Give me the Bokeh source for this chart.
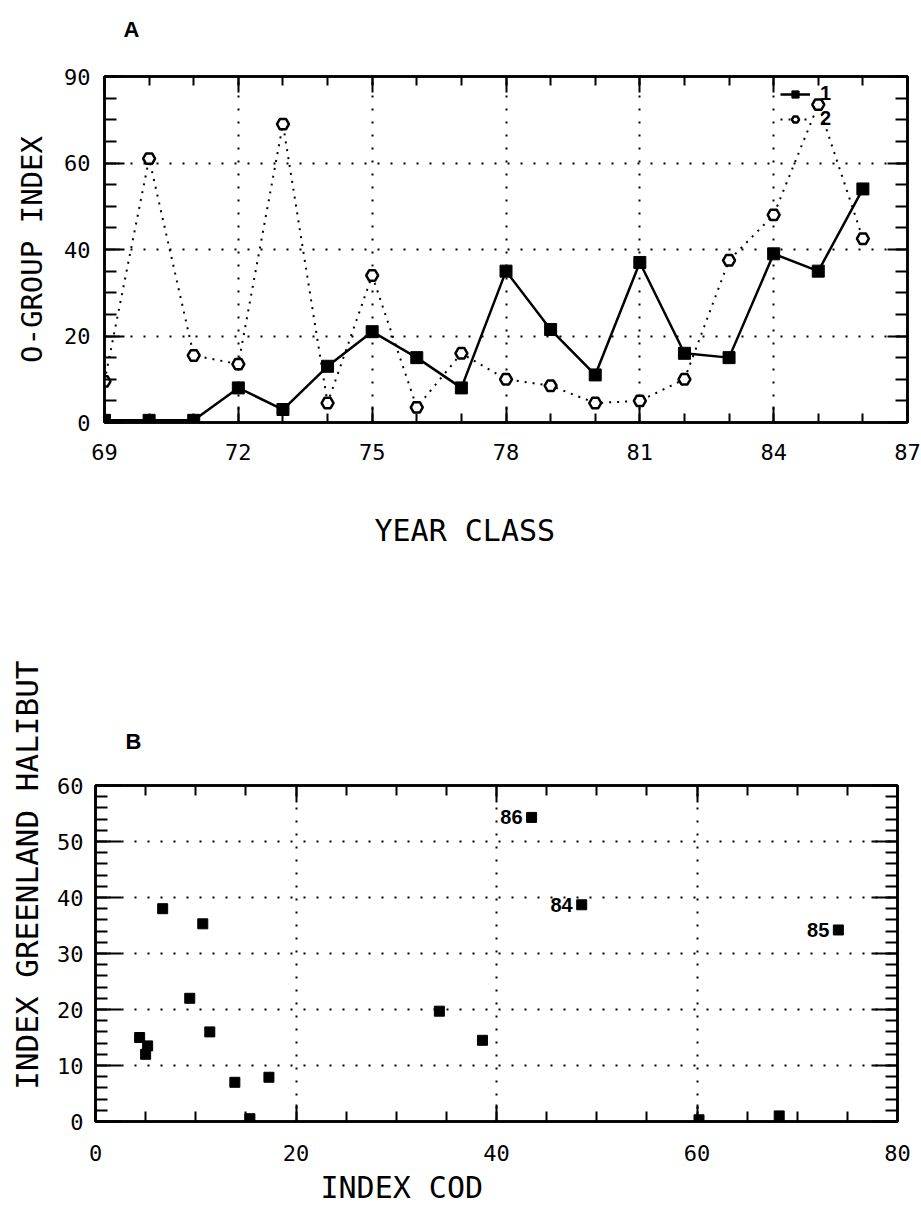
from bokeh.plotting import figure
from bokeh.models import (Range1d, SingleIntervalTicker, LinearAxis, Legend, Title,
                          LegendItem, ColumnDataSource, LabelSet)
from bokeh.embed import file_html
from bokeh.resources import INLINE
from bokeh.core.properties import value

# ---------------- data: panel A ----------------
years = [69, 70, 71, 72, 73, 74, 75, 76, 77, 78, 79, 80, 81, 82, 83, 84, 85, 86]
halibut_idx = [0.5, 0.5, 0.5, 8, 3, 13, 21, 15, 8, 35, 21.5, 11, 37, 16, 15, 39, 35, 54]
cod_idx = [9.5, 61, 15.5, 13.5, 69, 4.5, 34, 3.5, 16, 10, 8.5, 4.5, 5, 10, 37.5, 48, 73.5, 42.5]
series_labels = ["1", "2"]
a_ytick_labels = {80: "90"}

# ---------------- data: panel B ----------------
years_b = [70, 71, 72, 73, 74, 75, 76, 77, 78, 79, 80, 81, 82, 83, 84, 85, 86]
cod_b = [60.2, 15.4, 13.9, 68.2, 5.2, 34.3, 4.4, 17.3, 10.7, 9.4, 5.0, 6.7, 11.4, 38.6, 48.5, 74.1, 43.5]
halibut_b = [0.3, 0.5, 7.0, 1.0, 13.5, 19.7, 15.0, 7.9, 35.3, 22.0, 12.0, 38.0, 16.0, 14.5, 38.7, 34.2, 54.3]
labelled_years = [84, 85, 86]

MONO = "DejaVu Sans Mono"
BOLD = "Liberation Sans"


def style_axis(ax, ticker, major_in, minor_in, labels=True):
    ax.ticker = ticker
    ax.major_tick_in = major_in
    ax.major_tick_out = 0
    ax.minor_tick_in = minor_in
    ax.minor_tick_out = 0
    ax.axis_line_width = 2.5
    ax.axis_line_color = "black"
    ax.major_tick_line_width = 2
    ax.minor_tick_line_width = 2
    ax.major_tick_line_color = "black"
    ax.minor_tick_line_color = "black"
    ax.major_label_text_font = MONO
    if labels:
        ax.major_label_text_color = "black"
        ax.major_label_text_font_size = "22px"
    else:
        ax.major_label_text_color = None
        ax.major_label_text_font_size = "1px"
        ax.major_label_standoff = 0


def style_grid(p):
    for g in (p.xgrid, p.ygrid):
        g.grid_line_color = "black"
        g.grid_line_dash = "2 11"
        g.grid_line_width = 2


def mono_title(text, align, offset, standoff, valign="bottom", size="30px"):
    return Title(text=text, align=align, offset=offset, standoff=standoff,
                 vertical_align=valign, text_font=MONO, text_font_style="normal",
                 text_font_size=size, text_color="black")


# ================= Panel A =================
pA = figure(width=921, height=610, output_backend="svg", toolbar_location=None,
            x_range=Range1d(69, 87), y_range=Range1d(0, 80),
            min_border_left=104, min_border_right=14, min_border_top=76, min_border_bottom=188)
pA.outline_line_color = "black"
pA.outline_line_width = 2.5
pA.background_fill_color = "white"
pA.border_fill_color = "white"

style_axis(pA.xaxis[0], SingleIntervalTicker(interval=3, num_minor_ticks=3), 16, 9)
style_axis(pA.yaxis[0], SingleIntervalTicker(interval=20, num_minor_ticks=4), 20, 12)
pA.xaxis[0].major_label_standoff = 21
pA.yaxis[0].major_label_standoff = 14
pA.yaxis[0].major_label_overrides = a_ytick_labels
pA.yaxis[0].axis_label = "O-GROUP INDEX"
pA.yaxis[0].axis_label_standoff = 12
pA.yaxis[0].axis_label_text_font = MONO
pA.yaxis[0].axis_label_text_font_style = "normal"
pA.yaxis[0].axis_label_text_font_size = "29px"
pA.yaxis[0].axis_label_text_color = "black"

axr = LinearAxis()
style_axis(axr, SingleIntervalTicker(interval=20, num_minor_ticks=4), 20, 12, labels=False)
pA.add_layout(axr, "right")
axt = LinearAxis()
style_axis(axt, SingleIntervalTicker(interval=3, num_minor_ticks=3), 16, 9, labels=False)
pA.add_layout(axt, "above")
style_grid(pA)

r1l = pA.line(years, halibut_idx, line_color="black", line_width=2.5)
r1m = pA.scatter(years, halibut_idx, marker="square", size=12, fill_color="black", line_color="black")
r2l = pA.line(years, cod_idx, line_color="black", line_width=2, line_dash="2 6")
r2m = pA.scatter(years, cod_idx, marker="hex", size=12, fill_color="white", line_color="black", line_width=2.5)

leg = Legend(items=[LegendItem(label=series_labels[0], renderers=[r1l, r1m]),
                    LegendItem(label=series_labels[1], renderers=[r2l, r2m])],
             location=(676, 292), orientation="vertical")
leg.background_fill_alpha = 0
leg.border_line_alpha = 0
leg.label_text_font = BOLD
leg.label_text_font_style = "bold"
leg.label_text_font_size = "20px"
leg.label_text_color = "black"
leg.glyph_width = 30
leg.glyph_height = 18
leg.spacing = 2
leg.padding = 0
leg.margin = 0
leg.label_standoff = 10
pA.add_layout(leg)

tA = Title(text="A\n", align="left", offset=19, standoff=20, text_font=BOLD,
           text_font_style="bold", text_font_size="22px", text_color="black")
pA.add_layout(tA, "above")
pA.add_layout(mono_title("YEAR CLASS", "left", 270, 100, "top"), "below")

# ================= Panel B =================
pB = figure(width=921, height=614, output_backend="svg", toolbar_location=None,
            x_range=Range1d(0, 80), y_range=Range1d(0, 60),
            min_border_left=93, min_border_right=24, min_border_top=175, min_border_bottom=103)
pB.outline_line_color = "black"
pB.outline_line_width = 2.5
pB.background_fill_color = "white"
pB.border_fill_color = "white"

style_axis(pB.xaxis[0], SingleIntervalTicker(interval=20, num_minor_ticks=4), 17, 10)
style_axis(pB.yaxis[0], SingleIntervalTicker(interval=10, num_minor_ticks=5), 26, 12)
pB.xaxis[0].major_label_standoff = 23
pB.yaxis[0].major_label_standoff = 12

axr2 = LinearAxis()
style_axis(axr2, SingleIntervalTicker(interval=10, num_minor_ticks=5), 26, 12, labels=False)
pB.add_layout(axr2, "right")
axt2 = LinearAxis()
style_axis(axt2, SingleIntervalTicker(interval=20, num_minor_ticks=4), 17, 10, labels=False)
pB.add_layout(axt2, "above")
style_grid(pB)

srcB = ColumnDataSource(dict(x=cod_b, y=halibut_b, yr=years_b))
pB.scatter("x", "y", source=srcB, marker="square", size=10, fill_color="black", line_color="black")

lab_x = [c for c, yv in zip(cod_b, years_b) if yv in labelled_years]
lab_y = [h for h, yv in zip(halibut_b, years_b) if yv in labelled_years]
lab_t = [str(yv) for yv in years_b if yv in labelled_years]
srcL = ColumnDataSource(dict(x=lab_x, y=lab_y, t=lab_t))
pB.add_layout(LabelSet(x="x", y="y", text="t", source=srcL, x_offset=-9, text_align="right",
                       text_baseline="middle", text_font=value(BOLD), text_font_style="bold",
                       text_font_size="20px", text_color="black"))

tB = Title(text="B", align="left", offset=30, standoff=64, text_font=BOLD,
           text_font_style="bold", text_font_size="22px", text_color="black")
pB.add_layout(tB, "above")
pB.add_layout(mono_title("INDEX GREENLAND HALIBUT", "right", -125, 16, "top", "31px"), "left")
pB.add_layout(mono_title("INDEX COD", "left", 225, 12, "top"), "below")

open("out.html", "w").write(file_html([pA, pB], INLINE))
